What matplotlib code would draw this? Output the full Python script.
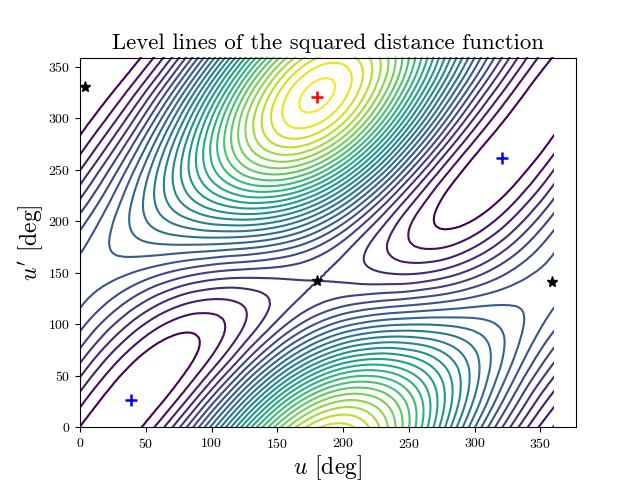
import numpy as np
import matplotlib.pyplot as plt
import matplotlib.tri as tri
from matplotlib.patches import Rectangle

plt.rcParams['font.family'] = 'cmr10'
plt.rcParams['mathtext.fontset'] = 'cm'
plt.rcParams['axes.formatter.use_mathtext'] = True

# squared distance estimated at 30 deg nodes: one row per u, one column per u'
# the last node of each axis wraps onto the first
dist_sq = np.array([
    [.146, .407, .733, 1.034, 1.231, 1.271, 1.143, .882, .556, .255, .058, .018],
    [.015, .040, .245, .578, .947, 1.253, 1.417, 1.392, 1.187, .854, .485, .179],
    [.368, .081, .029, .224, .614, 1.097, 1.541, 1.827, 1.879, 1.684, 1.294, .811],
    [1.197, .610, .230, .158, .416, .933, 1.571, 2.158, 2.539, 2.610, 2.352, 1.835],
    [2.325, 1.526, .837, .440, .445, .849, 1.543, 2.342, 3.031, 3.428, 3.423, 3.019],
    [3.405, 2.543, 1.644, .952, .652, .825, 1.421, 2.283, 3.182, 3.874, 4.174, 4.001],
    [4.060, 3.297, 2.347, 1.466, .891, .775, 1.148, 1.911, 2.861, 3.742, 4.317, 4.433],
    [4.072, 3.545, 2.716, 1.803, 1.056, .674, .754, 1.281, 2.110, 3.023, 3.770, 4.153],
    [3.478, 3.262, 2.689, 1.915, 1.147, .589, .390, .606, 1.179, 1.953, 2.721, 3.279],
    [2.529, 2.614, 2.370, 1.861, 1.227, .633, .239, .154, .398, .907, 1.541, 2.135],
    [1.521, 1.817, 1.882, 1.699, 1.316, .836, .387, .091, .026, .209, .592, 1.072],
    [.683, 1.042, 1.316, 1.429, 1.351, 1.102, .749, .390, .116, .003, .081, .330],
])

level_step = 0.1514
n_levels = 29

red_cross = ([180], [321])
blue_crosses = ([39, 321], [26, 261])
stars = ([4, 180, 359], [330, 142, 141])

# the function is periodic, so add wrapped nodes around the table
pad = 2
z = np.pad(dist_sq, pad, mode='wrap')
nodes = np.arange(-pad, 12 + pad) * 30
uu, vv = np.meshgrid(nodes, nodes, indexing='ij')

# let matplotlib smooth the contours of the coarse table
triang = tri.Triangulation(uu.ravel(), vv.ravel())
refiner = tri.UniformTriRefiner(triang)
fine_tri, fine_z = refiner.refine_field(z.ravel(), subdiv=3)

fig, ax = plt.subplots()
levels = level_step * np.arange(1, n_levels + 1)
cs = ax.tricontour(fine_tri, fine_z, levels=levels, cmap='viridis', linewidths=1.5)
cs.set_clip_path(Rectangle((0, 0), 360, 360, transform=ax.transData))

ax.plot(*red_cross, '+', color='red', ms=9, mew=1.8, zorder=5)
ax.plot(*blue_crosses, '+', color='blue', ms=9, mew=1.8, zorder=5)
ax.plot(*stars, '*', color='black', ms=8, zorder=5)

ax.set_xlim(0, 377)
ax.set_ylim(0, 359)
ax.set_xticks(np.arange(0, 351, 50))
ax.set_yticks(np.arange(0, 351, 50))
ax.set_title('Level lines of the squared distance function', fontsize=16.4)
ax.set_xlabel(r'$u$ [deg]', fontsize=17, labelpad=2)
ax.set_ylabel(r"$u'$ [deg]", fontsize=17, labelpad=2)

fig.savefig('out.png', dpi=100)
